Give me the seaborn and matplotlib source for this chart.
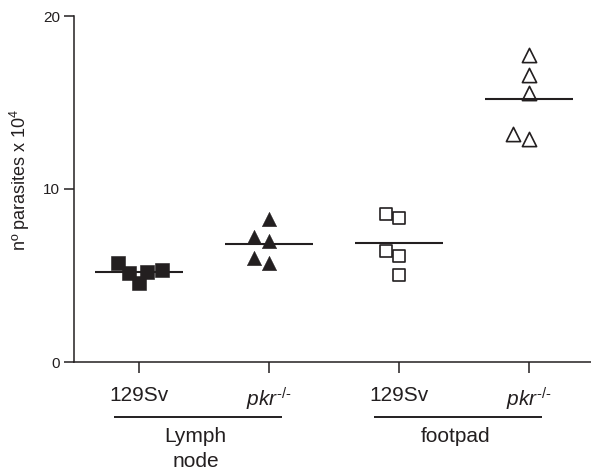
import numpy as np
import pandas as pd
import matplotlib
matplotlib.use("Agg")
import matplotlib.pyplot as plt
import seaborn as sns

# ---- data ----
groups = ["LN 129Sv", "LN pkr", "FP 129Sv", "FP pkr"]
tick_labels = ["129Sv", r"$pkr^{\text{-/-}}$", "129Sv", r"$pkr^{\text{-/-}}$"]
ln_129sv = [5.22, 5.71, 4.55, 5.32, 5.13]
ln_pkr = [8.29, 7.21, 7.00, 5.71, 6.00]
fp_129sv = [8.34, 8.54, 6.42, 6.13, 5.03]
fp_pkr = [17.75, 16.59, 15.57, 12.87, 13.16]
tissue_labels = ["Lymph\nnode", "footpad"]
tissue_groups = [["LN 129Sv", "LN pkr"], ["FP 129Sv", "FP pkr"]]
y_ticks = [0, 10, 20]
y_label = "nº parasites x 10$^4$"

values = [ln_129sv, ln_pkr, fp_129sv, fp_pkr]
df = pd.DataFrame({
    "group": np.repeat(groups, [len(v) for v in values]),
    "value": np.concatenate(values),
})

# ---- style ----
sns.set_style("ticks")
INK = "#231f20"
plt.rcParams["font.family"] = ["Liberation Sans", "DejaVu Sans"]
plt.rcParams["mathtext.fontset"] = "custom"
plt.rcParams["mathtext.rm"] = "Liberation Sans"
plt.rcParams["mathtext.it"] = "Liberation Sans:italic"
plt.rcParams["mathtext.bf"] = "Liberation Sans:bold"

fig = plt.figure(figsize=(5.91, 4.74), dpi=100)
ax = fig.add_axes([74 / 591, 112 / 474, 520 / 591, 346 / 474])

marker_styles = {
    "LN 129Sv": dict(marker="s", s=95, color=INK, edgecolor=INK, linewidth=0.4),
    "LN pkr": dict(marker="^", s=105, color=INK, edgecolor=INK, linewidth=0.4),
    "FP 129Sv": dict(marker="s", s=66, color="white", edgecolor=INK, linewidth=1.2),
    "FP pkr": dict(marker="^", s=105, color="white", edgecolor=INK, linewidth=1.2),
}
for g in groups:
    st = marker_styles[g]
    sns.swarmplot(data=df[df["group"] == g], x="group", y="value", order=groups,
                  ax=ax, size=np.sqrt(st["s"]), marker=st["marker"],
                  color=st["color"], edgecolor=st["edgecolor"],
                  linewidth=st["linewidth"], zorder=3)

# mean lines
sns.pointplot(data=df, x="group", y="value", order=groups, estimator="mean",
              errorbar=None, ax=ax, color=INK, marker="_", linestyle="none",
              markersize=63, markeredgewidth=1.5, zorder=4)

ax.set_xlim(-0.5, 3.5)
ax.set_ylim(0, 20)
ax.set_yticks(y_ticks)
ax.set_xticks(range(len(groups)))
ax.set_xticklabels(tick_labels)
ax.set_xlabel("")
ax.set_ylabel(y_label, fontsize=13, color=INK)
ax.yaxis.set_label_coords(-0.08, 0.526)

sns.despine(ax=ax)
for side in ["left", "bottom"]:
    ax.spines[side].set_linewidth(1.1)
    ax.spines[side].set_color(INK)
ax.tick_params(axis="y", length=7, width=1.1, labelsize=11, pad=3,
               color=INK, labelcolor=INK)
ax.tick_params(axis="x", length=8, width=1.1, labelsize=15, pad=9,
               color=INK, labelcolor=INK)

# group brackets
trans = ax.get_xaxis_transform()
for label, (g0, g1) in zip(tissue_labels, tissue_groups):
    i0, i1 = groups.index(g0), groups.index(g1)
    x0, x1 = i0 - 0.19, i1 + 0.1
    ax.plot([x0, x1], [-0.160, -0.160], transform=trans, color=INK,
            lw=1.4, clip_on=False, solid_capstyle="butt")
    ax.text((x0 + x1) / 2 - 0.02, -0.188, label, transform=trans, ha="center",
            va="top", fontsize=15, color=INK, linespacing=1.38)

fig.savefig("out.png", dpi=100)
